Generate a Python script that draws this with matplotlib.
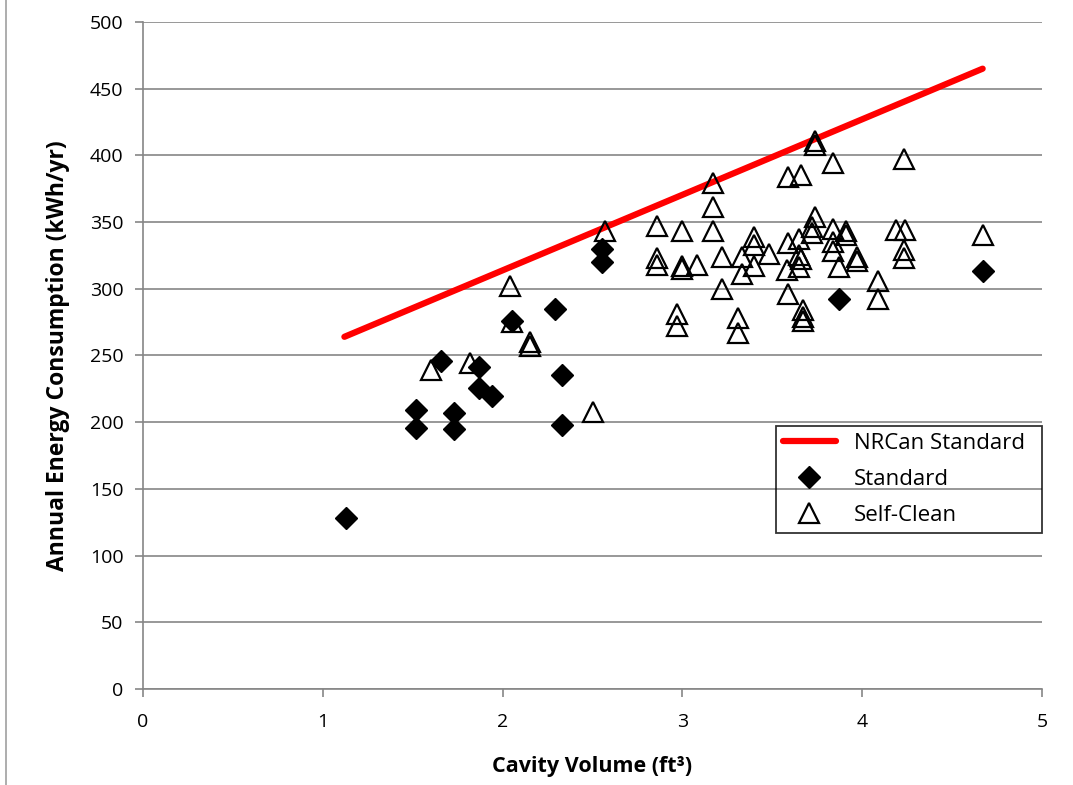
import matplotlib
matplotlib.use('Agg')
import matplotlib.pyplot as plt
from matplotlib.lines import Line2D

plt.rcParams['font.family'] = ['Open Sans', 'DejaVu Sans']

# NRCan standard line end points
nrcan_x = [1.12, 4.67]
nrcan_y = [264, 465]

# standard ovens
std_vol = [1.13, 1.52, 1.52, 1.66, 1.73, 1.73, 1.87, 1.87, 1.94, 2.05,
           2.29, 2.33, 2.33, 2.55, 2.55, 3.87, 4.67]
std_kwh = [128, 209, 196, 246, 207, 195, 241, 226, 220, 276,
           285, 235, 198, 330, 320, 292, 313]

# self-cleaning ovens
sc_vol = [1.60, 1.82, 2.04, 2.05, 2.15, 2.15, 2.50, 2.57,
          2.86, 2.86, 2.86, 2.97, 2.97, 3.00, 3.00, 3.00, 3.08,
          3.17, 3.17, 3.17, 3.22, 3.22, 3.31, 3.31, 3.33, 3.33,
          3.40, 3.40, 3.40, 3.48,
          3.59, 3.66, 3.74, 3.74, 3.84,
          3.59, 3.65, 3.65, 3.66, 3.58, 3.65, 3.59,
          3.67, 3.67, 3.67,
          3.74, 3.72, 3.72, 3.84, 3.91, 3.91, 3.84, 3.84, 3.87, 3.97, 3.97,
          4.09, 4.09, 4.23, 4.19, 4.24, 4.23, 4.23, 4.67]
sc_kwh = [239, 244, 302, 275, 260, 257, 208, 343,
          347, 323, 318, 281, 272, 343, 317, 315, 318,
          379, 361, 343, 324, 300, 278, 267, 324, 311,
          339, 333, 317, 326,
          384, 385, 411, 408, 394,
          334, 337, 325, 322, 314, 316, 296,
          284, 279, 276,
          354, 346, 342, 345, 343, 340, 335, 328, 316, 324, 321,
          306, 292, 397, 344, 344, 329, 323, 340]

x_ticks = [0, 1, 2, 3, 4, 5]
y_ticks = list(range(0, 501, 50))

grey = '#868686'

fig = plt.figure(figsize=(10.73, 7.85), dpi=100)
ax = fig.add_axes([0.1333, 0.1223, 0.8378, 0.8497])

ax.plot(nrcan_x, nrcan_y, color='#ff0000', lw=4.5, solid_capstyle='round',
        label='NRCan Standard', zorder=3)
ax.plot(std_vol, std_kwh, ls='none', marker='D', ms=11.5, color='black',
        label='Standard', zorder=4)
ax.plot(sc_vol, sc_kwh, ls='none', marker='^', ms=14, mfc='none',
        mec='black', mew=1.6, label='Self-Clean', zorder=4)

ax.set_xlim(0, 5)
ax.set_ylim(0, 500)
ax.set_xticks(x_ticks)
ax.set_yticks(y_ticks)
ax.grid(axis='y', color=grey, lw=1.2)
ax.set_axisbelow(True)

for s in ['top', 'right']:
    ax.spines[s].set_visible(False)
for s in ['left', 'bottom']:
    ax.spines[s].set_color(grey)
    ax.spines[s].set_linewidth(1.2)
ax.tick_params(direction='out', length=6, width=1.2, color=grey,
               labelsize=14, pad=8)
ax.tick_params(axis='x', pad=11)

ax.set_xlabel('Cavity Volume (ft³)', fontsize=15.5, fontweight='bold',
              labelpad=18)
ax.set_ylabel('Annual Energy Consumption (kWh/yr)', fontsize=16.5,
              fontweight='bold', labelpad=14)

leg = ax.legend(loc='lower left', bbox_to_anchor=(0.704, 0.234, 0.296, 0.165),
                mode='expand', fontsize=16, frameon=True, fancybox=False,
                facecolor='none', edgecolor='black', handlelength=2.4,
                borderaxespad=0, labelspacing=0.68, borderpad=0.3)
leg.get_frame().set_linewidth(1.3)

# thin border on the left edge of the chart area
fig.add_artist(Line2D([0.006, 0.006], [0, 1], color='#a0a0a0', lw=1.2))

fig.savefig('out.png', dpi=100)
